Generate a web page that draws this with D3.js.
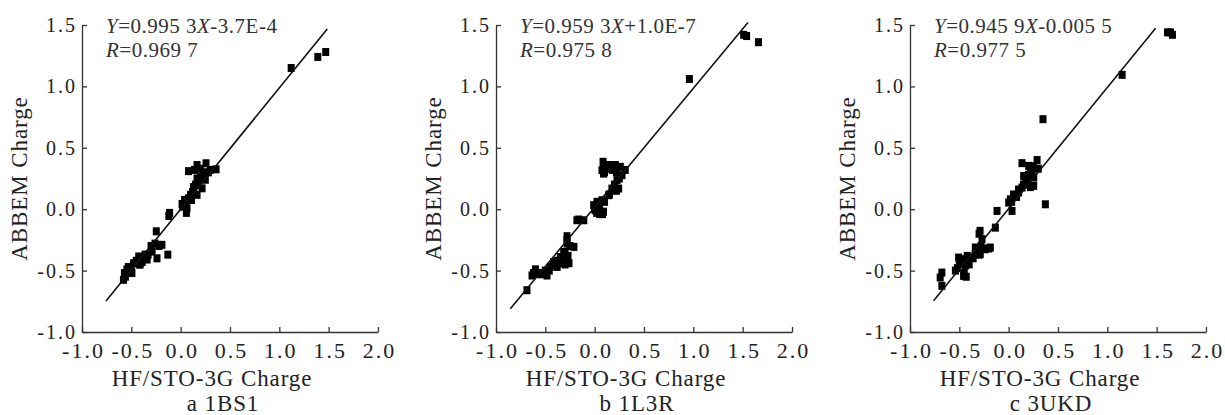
<!DOCTYPE html>
<html>
<head>
<meta charset="utf-8">
<script src="https://cdn.jsdelivr.net/npm/d3@7"></script>
<style>
body { margin: 0; background: #fff; }
svg text { font-family: "Liberation Serif", "Times New Roman", serif; fill: #222; }
.axis path, .axis line { stroke: #333; stroke-width: 1.3; }
.axis text { font-size: 22px; letter-spacing: 2px; }
.y.axis text { font-size: 20px; }
.title { font-size: 23px; letter-spacing: 0.9px; }
.eq { font-size: 21px; letter-spacing: 0.5px; fill: #333; }
</style>
</head>
<body>
<svg id="chart" width="1225" height="415"></svg>
<script>
// panel a: 1BS1
var xA = [1.12, 1.39, 1.47,
  0.08, 0.166, 0.257, 0.359, 0.22, 0.166, 0.25, 0.13, 0.217, 0.166, 0.10, 0.04, 0.014, 0.064, 0.058, 0.2, 0.11,
  0.02, 0.05, 0.08, 0.12, 0.15, 0.18, 0.2, 0.23, 0.28, 0.3, 0.14,
  -0.112, -0.12, -0.247, -0.19, -0.13, -0.24, -0.29, -0.36, -0.425, -0.477, -0.39, -0.34, -0.545, -0.56, -0.494, -0.41, -0.58,
  -0.5, -0.45, -0.42, -0.33, -0.3, -0.26, -0.22, -0.53, -0.57];
var yA = [1.15, 1.24, 1.28,
  0.31, 0.36, 0.374, 0.325, 0.29, 0.25, 0.24, 0.18, 0.17, 0.117, 0.117, 0.076, 0.043, 0.008, -0.03, 0.33, 0.075,
  0.02, 0.05, 0.09, 0.14, 0.2, 0.22, 0.26, 0.3, 0.3, 0.32, 0.32,
  -0.03, -0.055, -0.18, -0.29, -0.37, -0.40, -0.345, -0.37, -0.385, -0.44, -0.43, -0.41, -0.49, -0.55, -0.52, -0.45, -0.575,
  -0.5, -0.42, -0.45, -0.37, -0.3, -0.28, -0.3, -0.47, -0.52];

// panel b: 1L3R
var xB = [0.96, 1.51, 1.54, 1.66,
  0.085, 0.074, 0.09, 0.14, 0.21, 0.26, 0.31, 0.277, 0.226, 0.243, 0.175, 0.142, 0.074, 0.024, -0.01, 0.007, 0.057, 0.09,
  0.1, 0.12, 0.18, 0.22, 0.25, 0.2, 0.22, 0.15, 0.1, 0.05, 0.0, 0.05, 0.08, 0.02, 0.09,
  -0.162, -0.11, -0.28, -0.21, -0.28, -0.314, -0.28, -0.348, -0.416, -0.38, -0.35, -0.45, -0.5, -0.483, -0.55, -0.6, -0.635, -0.686,
  -0.28, -0.25, -0.3, -0.33, -0.3, -0.38, -0.42, -0.46, -0.52, -0.58, -0.62, -0.27, -0.26, -0.18];
var yB = [1.06, 1.42, 1.41, 1.36,
  0.386, 0.318, 0.29, 0.36, 0.36, 0.345, 0.32, 0.277, 0.236, 0.168, 0.168, 0.114, 0.073, 0.06, 0.033, -0.008, -0.03, -0.02,
  0.3, 0.33, 0.32, 0.3, 0.25, 0.2, 0.15, 0.12, 0.06, 0.03, 0.0, -0.04, -0.04, -0.03, 0.35,
  -0.084, -0.09, -0.22, -0.307, -0.28, -0.348, -0.416, -0.39, -0.43, -0.47, -0.44, -0.47, -0.5, -0.54, -0.53, -0.49, -0.54, -0.66,
  -0.25, -0.3, -0.35, -0.4, -0.45, -0.42, -0.45, -0.5, -0.52, -0.52, -0.52, -0.38, -0.44, -0.09];

// panel c: 3UKD
var xC = [1.61, 1.64, 1.66, 1.15, 0.348, 0.372,
  0.135, 0.288, 0.203, 0.237, 0.152, 0.254, 0.186, 0.254, 0.135, 0.101, 0.05, 0.017, 0.0, 0.034,
  0.05, 0.08, 0.1, 0.15, 0.17, 0.2, 0.22, 0.25, 0.3, 0.22, 0.03,
  -0.118, -0.135, -0.29, -0.27, -0.186, -0.237, -0.288, -0.34, -0.39, -0.44, -0.507, -0.49, -0.44, -0.54, -0.457, -0.677, -0.694, -0.677, -0.338,
  -0.3, -0.28, -0.32, -0.36, -0.42, -0.47, -0.5, -0.52, -0.45, -0.43, -0.4, -0.25, -0.2, -0.3];
var yC = [1.44, 1.44, 1.42, 1.094, 0.733, 0.04,
  0.375, 0.40, 0.353, 0.312, 0.27, 0.258, 0.23, 0.19, 0.176, 0.136, 0.108, 0.08, 0.054, -0.014,
  0.12, 0.1, 0.16, 0.2, 0.25, 0.28, 0.3, 0.35, 0.33, 0.18, 0.06,
  -0.014, -0.15, -0.176, -0.244, -0.312, -0.326, -0.366, -0.366, -0.394, -0.407, -0.394, -0.448, -0.46, -0.50, -0.543, -0.516, -0.556, -0.624, -0.312,
  -0.2, -0.3, -0.34, -0.4, -0.38, -0.44, -0.42, -0.48, -0.52, -0.55, -0.45, -0.32, -0.32, -0.37];

// fit line end points [x0, y0, x1, y1]
var lineA = [-0.757, -0.747, 1.486, 1.467];
var lineB = [-0.855, -0.81, 1.554, 1.52];
var lineC = [-0.761, -0.746, 1.489, 1.474];

var slopes = ["0.995 3", "0.959 3", "0.945 9"];
var intercepts = ["-3.7E-4", "+1.0E-7", "-0.005 5"];
var rValues = ["0.969 7", "0.975 8", "0.977 5"];
var captions = ["a 1BS1", "b 1L3R", "c 3UKD"];

var xTicks = [-1.0, -0.5, 0.0, 0.5, 1.0, 1.5, 2.0];
var yTicks = [-1.0, -0.5, 0.0, 0.5, 1.0, 1.5];

var panelLeft = [82, 496, 910],
    plotTop = 25,
    width = 296,
    height = 307;

var panels = [
  {x: xA, y: yA, line: lineA},
  {x: xB, y: yB, line: lineB},
  {x: xC, y: yC, line: lineC}
];

var svg = d3.select("#chart");
var fmt = function(d) { return d3.format(".1f")(d).replace("\u2212", "-"); };

panels.forEach(function(p, i) {
  var g = svg.append("g")
      .attr("transform", "translate(" + panelLeft[i] + "," + plotTop + ")");

  var xScale = d3.scaleLinear().domain([-1, 2]).range([0, width]);
  var yScale = d3.scaleLinear().domain([-1, 1.5]).range([height, 0]);

  var xAxisG = g.append("g")
      .attr("class", "x axis")
      .attr("transform", "translate(0," + height + ")")
      .call(d3.axisBottom(xScale).tickValues(xTicks).tickFormat(fmt)
              .tickSizeInner(-5).tickSizeOuter(0).tickPadding(10));
  // letter-spacing adds a trailing gap, so nudge to keep labels centred
  xAxisG.selectAll("text").attr("dx", "1px");

  g.append("g")
      .attr("class", "y axis")
      .call(d3.axisLeft(yScale).tickValues(yTicks).tickFormat(fmt)
              .tickSizeInner(-5).tickSizeOuter(0).tickPadding(5));

  g.selectAll(".axis text").attr("fill", "#222");

  // points
  g.selectAll(".dot")
      .data(p.x.map(function(d, k) { return [d, p.y[k]]; }))
    .enter().append("rect")
      .attr("class", "dot")
      .attr("x", function(d) { return xScale(d[0]) - 3.5; })
      .attr("y", function(d) { return yScale(d[1]) - 4; })
      .attr("width", 7)
      .attr("height", 8)
      .style("fill", "#000");

  // fit line
  g.append("line")
      .attr("x1", xScale(p.line[0]))
      .attr("y1", yScale(p.line[1]))
      .attr("x2", xScale(p.line[2]))
      .attr("y2", yScale(p.line[3]))
      .style("stroke", "#111")
      .style("stroke-width", 1.6);

  // equation
  var eq = g.append("text").attr("class", "eq").attr("x", 24).attr("y", 8);
  eq.append("tspan").style("font-style", "italic").text("Y");
  eq.append("tspan").text("=" + slopes[i]);
  eq.append("tspan").style("font-style", "italic").text("X");
  eq.append("tspan").text(intercepts[i]);

  var rr = g.append("text").attr("class", "eq").attr("x", 24).attr("y", 32);
  rr.append("tspan").style("font-style", "italic").text("R");
  rr.append("tspan").text("=" + rValues[i]);

  // axis titles
  g.append("text")
      .attr("class", "title")
      .attr("x", 130)
      .attr("y", 361)
      .style("text-anchor", "middle")
      .text("HF/STO-3G Charge");

  g.append("text")
      .attr("class", "title")
      .attr("x", 141)
      .attr("y", 386)
      .style("text-anchor", "middle")
      .text(captions[i]);

  g.append("text")
      .attr("class", "title")
      .attr("transform", "translate(-55," + yScale(0.25) + ") rotate(-90)")
      .style("text-anchor", "middle")
      .text("ABBEM Charge");
});
</script>
</body>
</html>
